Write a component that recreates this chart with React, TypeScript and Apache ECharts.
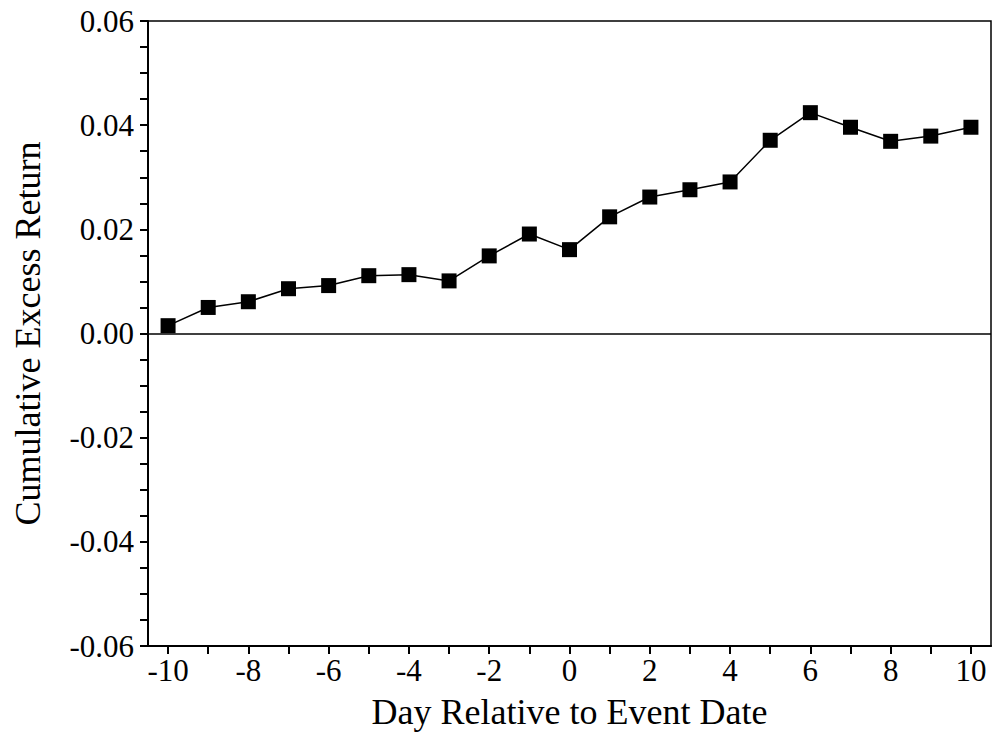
import React, { useEffect, useRef } from "react";
import * as echarts from "echarts";

const days = [-10, -9, -8, -7, -6, -5, -4, -3, -2, -1, 0, 1, 2, 3, 4, 5, 6, 7, 8, 9, 10];
const cumulativeExcessReturn = [
  0.0015, 0.005, 0.0061, 0.0086, 0.0092, 0.0111, 0.0113, 0.0101, 0.0149, 0.0191,
  0.0161, 0.0224, 0.0262, 0.0276, 0.0291, 0.0371, 0.0424, 0.0396, 0.0369, 0.0379, 0.0396,
];
const xTickValues = [-10, -9, -8, -7, -6, -5, -4, -3, -2, -1, 0, 1, 2, 3, 4, 5, 6, 7, 8, 9, 10];
const xLabelValues = [-10, -8, -6, -4, -2, 0, 2, 4, 6, 8, 10];

const FONT = "Liberation Serif";

export default function App() {
  const ref = useRef<HTMLDivElement>(null);
  useEffect(() => {
    document.body.style.margin = "0";
    if (!ref.current) return;
    const chart = echarts.init(ref.current, null, { renderer: "svg" });
    chart.setOption({
      animation: false,
      backgroundColor: "#ffffff",
      grid: {
        left: 148,
        top: 21,
        right: 2,
        bottom: 87,
        show: true,
        borderColor: "#000",
        borderWidth: 1.5,
        containLabel: false,
      },
      xAxis: {
        type: "value",
        min: -10.5,
        max: 10.5,
        name: "Day Relative to Event Date",
        nameLocation: "middle",
        nameGap: 48,
        nameTextStyle: { fontFamily: FONT, fontSize: 36, color: "#000" },
        axisLine: { show: true, onZero: false, lineStyle: { color: "#000", width: 2 } },
        axisTick: { show: true, length: 8, customValues: xTickValues, lineStyle: { color: "#000", width: 2 } },
        axisLabel: {
          customValues: xLabelValues,
          fontFamily: FONT,
          fontSize: 31,
          color: "#000",
          margin: 9,
          formatter: (v: number) => String(v),
        },
        splitLine: { show: false },
      },
      yAxis: {
        type: "value",
        min: -0.06,
        max: 0.06,
        interval: 0.02,
        name: "Cumulative Excess Return",
        nameLocation: "middle",
        nameGap: 102,
        nameTextStyle: { fontFamily: FONT, fontSize: 36, color: "#000" },
        axisLine: { show: true, onZero: false, lineStyle: { color: "#000", width: 2 } },
        axisTick: { show: true, length: 8, lineStyle: { color: "#000", width: 2 } },
        minorTick: { show: true, splitNumber: 4, length: 8, lineStyle: { color: "#000", width: 2 } },
        axisLabel: {
          fontFamily: FONT,
          fontSize: 31,
          color: "#000",
          margin: 14,
          formatter: (v: number) => v.toFixed(2),
        },
        splitLine: { show: false },
      },
      series: [
        {
          type: "line",
          data: days.map((d, i) => [d, cumulativeExcessReturn[i]]),
          symbol: "rect",
          symbolSize: 15,
          itemStyle: { color: "#000" },
          lineStyle: { color: "#000", width: 1.5 },
          markLine: {
            silent: true,
            symbol: "none",
            label: { show: false },
            lineStyle: { color: "#000", width: 1.5, type: "solid" },
            data: [{ yAxis: 0 }],
          },
        },
      ],
    });
    return () => chart.dispose();
  }, []);
  return <div ref={ref} style={{ width: 993, height: 735 }} />;
}
